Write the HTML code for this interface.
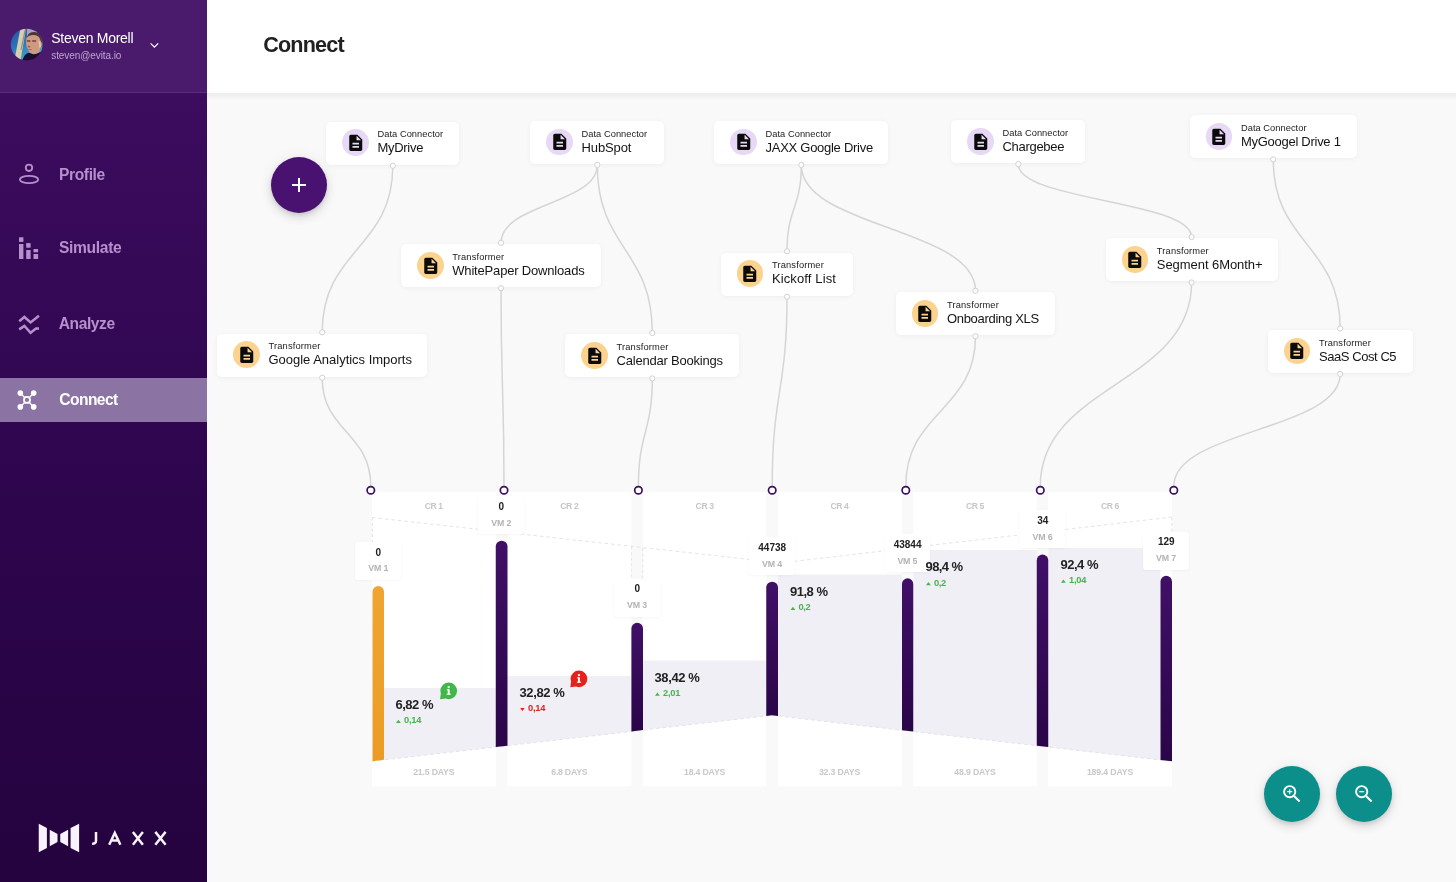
<!DOCTYPE html>
<html lang="en"><head><meta charset="utf-8"><title>Connect</title>
<style>
*{box-sizing:border-box}
html,body{margin:0;padding:0}
body{width:1456px;height:882px;overflow:hidden;background:#f9f9f9;font-family:"Liberation Sans", sans-serif;position:relative}
.t{position:absolute;white-space:pre;font-family:"Liberation Sans", sans-serif}
#side{position:absolute;left:0;top:0;width:207px;height:882px;background:linear-gradient(180deg,#3c0c5e 93px,#2d054d 500px,#24033e 882px)}
#sidehead{position:absolute;left:0;top:0;width:207px;height:93px;background:#4a1b6c;border-bottom:1px solid #5b2d7d}
#navact{position:absolute;left:0;top:378px;width:207px;height:44px;background:#8b73a3}
#top{position:absolute;left:207px;top:0;width:1249px;height:92.5px;background:#fff;}
#topsh{position:absolute;left:207px;top:92.5px;width:1249px;height:7px;background:linear-gradient(180deg,#eeeeee 0,#efefef 35%,#f6f6f6 70%,#f9f9f9 100%)}
.node{position:absolute;height:43px;background:#fff;border-radius:5px;box-shadow:0 1px 5px rgba(0,0,0,.05)}
.nic{position:absolute;left:16px;top:7.9px;width:26.8px;height:26.8px;border-radius:50%;display:flex;align-items:center;justify-content:center}
.tag{position:absolute;width:45.6px;height:38px;background:#fff;border-radius:3px;box-shadow:0 1px 3px rgba(0,0,0,.04)}
.fab{position:absolute;width:56px;height:56px;border-radius:50%}
#txt{position:absolute;left:0;top:0;width:1456px;height:882px;will-change:transform}
svg.ov{position:absolute;left:0;top:0;width:1456px;height:882px;overflow:visible}
</style></head>
<body>
<div id="top"></div><div id="topsh"></div>
<svg class="ov" viewBox="0 0 1456 882">
<defs>
<linearGradient id="gP" x1="0" y1="0" x2="0" y2="1"><stop offset="0" stop-color="#401067"/><stop offset="1" stop-color="#2a0548"/></linearGradient>
<linearGradient id="gO" x1="0" y1="0" x2="0" y2="1"><stop offset="0" stop-color="#f0a431"/><stop offset="1" stop-color="#ea9c25"/></linearGradient>
</defs>
<g fill="none" stroke="#d5d5d5" stroke-width="1.5">
<path d="M392.8,165.7 C392.8,249.0 322.2,249.0 322.2,332.3"/>
<path d="M597.3,164.9 C597.3,203.8 501.0,203.8 501.0,242.8"/>
<path d="M597.3,164.9 C597.3,248.9 652.3,248.9 652.3,333.0"/>
<path d="M801.3,164.9 C801.3,208.1 787.0,208.1 787.0,251.3"/>
<path d="M801.3,164.9 C801.3,227.8 975.5,227.8 975.5,290.8"/>
<path d="M1018.3,164.2 C1018.3,200.7 1191.6,200.7 1191.6,237.1"/>
<path d="M1273.2,159.4 C1273.2,243.9 1340.2,243.9 1340.2,328.5"/>
<path d="M322.2,377.7 C322.2,432.0 370.8,432.0 370.8,486.2"/>
<path d="M501.0,288.2 C501.0,387.2 504.0,387.2 504.0,486.2"/>
<path d="M652.3,378.4 C652.3,432.3 638.4,432.3 638.4,486.2"/>
<path d="M787.0,296.7 C787.0,391.5 772.2,391.5 772.2,486.2"/>
<path d="M975.5,336.2 C975.5,411.2 905.8,411.2 905.8,486.2"/>
<path d="M1191.6,282.5 C1191.6,384.4 1040.3,384.4 1040.3,486.2"/>
<path d="M1340.2,373.9 C1340.2,430.1 1173.8,430.1 1173.8,486.2"/>
</g>
<rect x="372" y="492" width="123.75" height="294.3" fill="#fff"/>
<rect x="507.5" y="492" width="123.90" height="294.3" fill="#fff"/>
<rect x="643" y="492" width="123.25" height="294.3" fill="#fff"/>
<rect x="778" y="492" width="124.00" height="294.3" fill="#fff"/>
<rect x="913.25" y="492" width="123.50" height="294.3" fill="#fff"/>
<rect x="1048.25" y="492" width="123.75" height="294.3" fill="#fff"/>
<polygon points="384,688 495.75,688 495.75,747.02 384,759.87" fill="#f1eff6"/>
<polygon points="507.5,676 631.4,676 631.4,731.42 507.5,745.67" fill="#f1eff6"/>
<polygon points="643,660.5 766.25,660.5 766.25,715.91 643,730.09" fill="#f1eff6"/>
<polygon points="778,574.5 902,574.5 902,730.20 778,715.94" fill="#f1eff6"/>
<polygon points="913.25,550 1036.75,550 1036.75,745.70 913.25,731.49" fill="#f1eff6"/>
<polygon points="1048.25,548 1160.5,548 1160.5,759.93 1048.25,747.02" fill="#f1eff6"/>
<polyline points="372,517.5 772,561.9" fill="none" stroke="#e4e4e4" stroke-width="1" stroke-dasharray="3.5 3"/>
<polyline points="1172,517 772,564" fill="none" stroke="#e4e4e4" stroke-width="1" stroke-dasharray="3.5 3"/>
<polyline points="372,761.25 772,715.25 1172,761.25" fill="none" stroke="#e4e4e4" stroke-width="1" stroke-dasharray="3.5 3"/>
<line x1="372.3" y1="517.5" x2="372.3" y2="542" stroke="#e4e4e4" stroke-dasharray="3 2.5"/>
<line x1="1171.8" y1="517.5" x2="1171.8" y2="532" stroke="#e4e4e4" stroke-dasharray="3 2.5"/>
<line x1="631.6" y1="546.7" x2="631.6" y2="580" stroke="#e4e4e4" stroke-dasharray="3 2.5"/>
<line x1="642.8" y1="548.0" x2="642.8" y2="580" stroke="#e4e4e4" stroke-dasharray="3 2.5"/>
<path d="M372.5,761.19 L372.5,591.85 A5.75,5.75 0 0 1 384,591.85 L384,759.87 Z" fill="url(#gO)"/>
<path d="M495.75,747.02 L495.75,546.33 A5.88,5.88 0 0 1 507.5,546.33 L507.5,745.67 Z" fill="url(#gP)"/>
<path d="M631.4,731.42 L631.4,628.60 A5.80,5.80 0 0 1 643,628.60 L643,730.09 Z" fill="url(#gP)"/>
<path d="M766.25,715.91 L766.25,587.33 A5.88,5.88 0 0 1 778,587.33 L778,715.94 L772,715.25 Z" fill="url(#gP)"/>
<path d="M902,730.20 L902,583.93 A5.62,5.62 0 0 1 913.25,583.93 L913.25,731.49 Z" fill="url(#gP)"/>
<path d="M1036.75,745.70 L1036.75,560.20 A5.75,5.75 0 0 1 1048.25,560.20 L1048.25,747.02 Z" fill="url(#gP)"/>
<path d="M1160.5,759.93 L1160.5,581.55 A5.75,5.75 0 0 1 1172,581.55 L1172,761.25 Z" fill="url(#gP)"/>
</svg>
<div class="node" style="left:326.25px;top:121.5px;width:133px"><div class="nic" style="background:#e7d8f6"><svg viewBox="0 0 24 24" width="19.5" height="19.5"><path d="M14 2H6c-1.1 0-1.99.9-1.99 2L4 20c0 1.1.89 2 1.99 2H18c1.1 0 2-.9 2-2V8l-6-6zm2 16H8v-2h8v2zm0-4H8v-2h8v2zm-3-5V3.5L18.5 9H13z" fill="#0b0b0b"/></svg></div></div><div class="node" style="left:530.3px;top:120.7px;width:134px"><div class="nic" style="background:#e7d8f6"><svg viewBox="0 0 24 24" width="19.5" height="19.5"><path d="M14 2H6c-1.1 0-1.99.9-1.99 2L4 20c0 1.1.89 2 1.99 2H18c1.1 0 2-.9 2-2V8l-6-6zm2 16H8v-2h8v2zm0-4H8v-2h8v2zm-3-5V3.5L18.5 9H13z" fill="#0b0b0b"/></svg></div></div><div class="node" style="left:714.3px;top:120.7px;width:174px"><div class="nic" style="background:#e7d8f6"><svg viewBox="0 0 24 24" width="19.5" height="19.5"><path d="M14 2H6c-1.1 0-1.99.9-1.99 2L4 20c0 1.1.89 2 1.99 2H18c1.1 0 2-.9 2-2V8l-6-6zm2 16H8v-2h8v2zm0-4H8v-2h8v2zm-3-5V3.5L18.5 9H13z" fill="#0b0b0b"/></svg></div></div><div class="node" style="left:951.3px;top:120px;width:134px"><div class="nic" style="background:#e7d8f6"><svg viewBox="0 0 24 24" width="19.5" height="19.5"><path d="M14 2H6c-1.1 0-1.99.9-1.99 2L4 20c0 1.1.89 2 1.99 2H18c1.1 0 2-.9 2-2V8l-6-6zm2 16H8v-2h8v2zm0-4H8v-2h8v2zm-3-5V3.5L18.5 9H13z" fill="#0b0b0b"/></svg></div></div><div class="node" style="left:1189.7px;top:115.2px;width:167px"><div class="nic" style="background:#e7d8f6"><svg viewBox="0 0 24 24" width="19.5" height="19.5"><path d="M14 2H6c-1.1 0-1.99.9-1.99 2L4 20c0 1.1.89 2 1.99 2H18c1.1 0 2-.9 2-2V8l-6-6zm2 16H8v-2h8v2zm0-4H8v-2h8v2zm-3-5V3.5L18.5 9H13z" fill="#0b0b0b"/></svg></div></div><div class="node" style="left:401px;top:244px;width:200px"><div class="nic" style="background:#fbd38f"><svg viewBox="0 0 24 24" width="19.5" height="19.5"><path d="M14 2H6c-1.1 0-1.99.9-1.99 2L4 20c0 1.1.89 2 1.99 2H18c1.1 0 2-.9 2-2V8l-6-6zm2 16H8v-2h8v2zm0-4H8v-2h8v2zm-3-5V3.5L18.5 9H13z" fill="#0b0b0b"/></svg></div></div><div class="node" style="left:217.25px;top:333.5px;width:210px"><div class="nic" style="background:#fbd38f"><svg viewBox="0 0 24 24" width="19.5" height="19.5"><path d="M14 2H6c-1.1 0-1.99.9-1.99 2L4 20c0 1.1.89 2 1.99 2H18c1.1 0 2-.9 2-2V8l-6-6zm2 16H8v-2h8v2zm0-4H8v-2h8v2zm-3-5V3.5L18.5 9H13z" fill="#0b0b0b"/></svg></div></div><div class="node" style="left:565.3px;top:334.2px;width:174px"><div class="nic" style="background:#fbd38f"><svg viewBox="0 0 24 24" width="19.5" height="19.5"><path d="M14 2H6c-1.1 0-1.99.9-1.99 2L4 20c0 1.1.89 2 1.99 2H18c1.1 0 2-.9 2-2V8l-6-6zm2 16H8v-2h8v2zm0-4H8v-2h8v2zm-3-5V3.5L18.5 9H13z" fill="#0b0b0b"/></svg></div></div><div class="node" style="left:720.7px;top:252.5px;width:132.5px"><div class="nic" style="background:#fbd38f"><svg viewBox="0 0 24 24" width="19.5" height="19.5"><path d="M14 2H6c-1.1 0-1.99.9-1.99 2L4 20c0 1.1.89 2 1.99 2H18c1.1 0 2-.9 2-2V8l-6-6zm2 16H8v-2h8v2zm0-4H8v-2h8v2zm-3-5V3.5L18.5 9H13z" fill="#0b0b0b"/></svg></div></div><div class="node" style="left:895.7px;top:292px;width:159.5px"><div class="nic" style="background:#fbd38f"><svg viewBox="0 0 24 24" width="19.5" height="19.5"><path d="M14 2H6c-1.1 0-1.99.9-1.99 2L4 20c0 1.1.89 2 1.99 2H18c1.1 0 2-.9 2-2V8l-6-6zm2 16H8v-2h8v2zm0-4H8v-2h8v2zm-3-5V3.5L18.5 9H13z" fill="#0b0b0b"/></svg></div></div><div class="node" style="left:1105.6px;top:238.3px;width:172px"><div class="nic" style="background:#fbd38f"><svg viewBox="0 0 24 24" width="19.5" height="19.5"><path d="M14 2H6c-1.1 0-1.99.9-1.99 2L4 20c0 1.1.89 2 1.99 2H18c1.1 0 2-.9 2-2V8l-6-6zm2 16H8v-2h8v2zm0-4H8v-2h8v2zm-3-5V3.5L18.5 9H13z" fill="#0b0b0b"/></svg></div></div><div class="node" style="left:1267.7px;top:329.7px;width:145px"><div class="nic" style="background:#fbd38f"><svg viewBox="0 0 24 24" width="19.5" height="19.5"><path d="M14 2H6c-1.1 0-1.99.9-1.99 2L4 20c0 1.1.89 2 1.99 2H18c1.1 0 2-.9 2-2V8l-6-6zm2 16H8v-2h8v2zm0-4H8v-2h8v2zm-3-5V3.5L18.5 9H13z" fill="#0b0b0b"/></svg></div></div>
<div class="tag" style="left:355.3px;top:541.9px"></div><div class="tag" style="left:478.3px;top:496.2px"></div><div class="tag" style="left:614.1px;top:578.6px"></div><div class="tag" style="left:749.1px;top:537.2px"></div><div class="tag" style="left:884.5px;top:534.1px"></div><div class="tag" style="left:1019.7px;top:510.2px"></div><div class="tag" style="left:1143.2px;top:531.6px"></div>
<svg class="ov" viewBox="0 0 1456 882">
<circle cx="392.8" cy="165.7" r="2.6" fill="#fff" stroke="#d2d2d2" stroke-width="1"/><circle cx="597.3" cy="164.9" r="2.6" fill="#fff" stroke="#d2d2d2" stroke-width="1"/><circle cx="801.3" cy="164.9" r="2.6" fill="#fff" stroke="#d2d2d2" stroke-width="1"/><circle cx="1018.3" cy="164.2" r="2.6" fill="#fff" stroke="#d2d2d2" stroke-width="1"/><circle cx="1273.2" cy="159.4" r="2.6" fill="#fff" stroke="#d2d2d2" stroke-width="1"/><circle cx="501.0" cy="242.8" r="2.6" fill="#fff" stroke="#d2d2d2" stroke-width="1"/><circle cx="501.0" cy="288.2" r="2.6" fill="#fff" stroke="#d2d2d2" stroke-width="1"/><circle cx="322.2" cy="332.3" r="2.6" fill="#fff" stroke="#d2d2d2" stroke-width="1"/><circle cx="322.2" cy="377.7" r="2.6" fill="#fff" stroke="#d2d2d2" stroke-width="1"/><circle cx="652.3" cy="333.0" r="2.6" fill="#fff" stroke="#d2d2d2" stroke-width="1"/><circle cx="652.3" cy="378.4" r="2.6" fill="#fff" stroke="#d2d2d2" stroke-width="1"/><circle cx="787.0" cy="251.3" r="2.6" fill="#fff" stroke="#d2d2d2" stroke-width="1"/><circle cx="787.0" cy="296.7" r="2.6" fill="#fff" stroke="#d2d2d2" stroke-width="1"/><circle cx="975.5" cy="290.8" r="2.6" fill="#fff" stroke="#d2d2d2" stroke-width="1"/><circle cx="975.5" cy="336.2" r="2.6" fill="#fff" stroke="#d2d2d2" stroke-width="1"/><circle cx="1191.6" cy="237.1" r="2.6" fill="#fff" stroke="#d2d2d2" stroke-width="1"/><circle cx="1191.6" cy="282.5" r="2.6" fill="#fff" stroke="#d2d2d2" stroke-width="1"/><circle cx="1340.2" cy="328.5" r="2.6" fill="#fff" stroke="#d2d2d2" stroke-width="1"/><circle cx="1340.2" cy="373.9" r="2.6" fill="#fff" stroke="#d2d2d2" stroke-width="1"/>
<circle cx="370.8" cy="490.25" r="3.7" fill="#fff" stroke="#3b0f60" stroke-width="1.7"/><circle cx="504" cy="490.25" r="3.7" fill="#fff" stroke="#3b0f60" stroke-width="1.7"/><circle cx="638.4" cy="490.25" r="3.7" fill="#fff" stroke="#3b0f60" stroke-width="1.7"/><circle cx="772.2" cy="490.25" r="3.7" fill="#fff" stroke="#3b0f60" stroke-width="1.7"/><circle cx="905.8" cy="490.25" r="3.7" fill="#fff" stroke="#3b0f60" stroke-width="1.7"/><circle cx="1040.3" cy="490.25" r="3.7" fill="#fff" stroke="#3b0f60" stroke-width="1.7"/><circle cx="1173.8" cy="490.25" r="3.7" fill="#fff" stroke="#3b0f60" stroke-width="1.7"/>
<polygon points="396.0,722.95 400.8,722.95 398.4,719.85" fill="#43b649"/>
<polygon points="520.1,707.95 524.7,707.95 522.4,710.95" fill="#e3221c"/>
<polygon points="655.0,695.7 659.8,695.7 657.4,692.6" fill="#43b649"/>
<polygon points="790.5,609.95 795.3,609.95 792.9,606.85" fill="#43b649"/>
<polygon points="926.0,585.2 930.8,585.2 928.4,582.1" fill="#43b649"/>
<polygon points="1061.0,582.7 1065.8,582.7 1063.4,579.6" fill="#43b649"/>
<!-- info bubbles -->
<g><circle cx="448.7" cy="690.8" r="8.35" fill="#43b649"/><path d="M440.80,693.40 L440.10,699.20 L445.70,698.50z" fill="#43b649"/><rect x="447.75" y="689.30" width="1.9" height="5.2" fill="#fff"/><rect x="446.80" y="689.30" width="2.2" height="1" fill="#fff"/><rect x="446.60" y="693.70" width="4.2" height="1" fill="#fff"/><circle cx="448.7" cy="687.10" r="1.2" fill="#fff"/></g>
<g><circle cx="578.95" cy="678.8" r="8.35" fill="#e3221c"/><path d="M571.05,681.40 L570.35,687.20 L575.95,686.50z" fill="#e3221c"/><rect x="578.00" y="677.30" width="1.9" height="5.2" fill="#fff"/><rect x="577.05" y="677.30" width="2.2" height="1" fill="#fff"/><rect x="576.85" y="681.70" width="4.2" height="1" fill="#fff"/><circle cx="578.95" cy="675.10" r="1.2" fill="#fff"/></g>
</svg>

<!-- FABs -->
<div class="fab" style="left:271px;top:157px;background:#491170;box-shadow:0 2px 5px -1px rgba(0,0,0,.14),0 5px 10px rgba(0,0,0,.09),0 1px 16px rgba(0,0,0,.07)">
<svg viewBox="0 0 56 56" width="56" height="56"><path d="M28 21v14M21 28h14" stroke="#fff" stroke-width="2" fill="none"/></svg></div>
<div class="fab" style="left:1264px;top:766px;width:56px;height:56px;background:#0c8f8b;box-shadow:0 2px 5px -1px rgba(0,0,0,.14),0 5px 10px rgba(0,0,0,.09),0 1px 16px rgba(0,0,0,.07)">
<svg viewBox="0 0 56 56" width="56" height="56"><circle cx="25.7" cy="25.7" r="5.6" stroke="#fff" stroke-width="1.9" fill="none"/><path d="M30 30l5.6 5.6" stroke="#fff" stroke-width="2.1" fill="none"/><path d="M25.7 23.2v5M23.2 25.7h5" stroke="#fff" stroke-width="1.2"/></svg></div>
<div class="fab" style="left:1336px;top:766px;width:56px;height:56px;background:#0c8f8b;box-shadow:0 2px 5px -1px rgba(0,0,0,.14),0 5px 10px rgba(0,0,0,.09),0 1px 16px rgba(0,0,0,.07)">
<svg viewBox="0 0 56 56" width="56" height="56"><circle cx="25.7" cy="25.7" r="5.6" stroke="#fff" stroke-width="1.9" fill="none"/><path d="M30 30l5.6 5.6" stroke="#fff" stroke-width="2.1" fill="none"/><path d="M23.2 25.7h5" stroke="#fff" stroke-width="1.2"/></svg></div>

<!-- sidebar -->
<div id="side"></div><div id="sidehead"></div><div id="navact"></div>
<svg class="ov" viewBox="0 0 1456 882">
<!-- avatar -->
<defs><clipPath id="av"><circle cx="26.7" cy="44.6" r="15.9"/></clipPath><linearGradient id="sky" x1="0" y1="0" x2="0.5" y2="1"><stop offset="0" stop-color="#25499a"/><stop offset="0.55" stop-color="#2f78bd"/><stop offset="1" stop-color="#45b3cf"/></linearGradient><filter id="avb" x="-10%" y="-10%" width="120%" height="120%"><feGaussianBlur stdDeviation="0.7"/></filter></defs>
<g clip-path="url(#av)"><g filter="url(#avb)">
<rect x="9" y="27" width="36" height="36" fill="url(#sky)"/>
<polygon points="20.6,27 26.4,27 20.2,62 14.2,62" fill="#d6cfac"/>
<polygon points="25.2,27 26.6,27 21.5,50 20.4,50" fill="#4a5a70" opacity=".55"/>
<rect x="27" y="27" width="17" height="12" fill="#a7a2bd"/>
<path d="M26.5,40 Q27,31.5 34.5,32 Q41.5,32.5 42,42 L42,47 L26.5,44z" fill="#4b3634"/>
<path d="M26.3,38.5 Q28,34.8 34,35 Q39.5,35.4 40.3,40 L41.8,43 Q42.6,46 40.6,47.4 L39,53 Q34,55.5 29.5,52.5 L26.6,47 Q25.6,43 26.3,38.5z" fill="#cf9a82"/>
<path d="M27,40.3 h3.4 v1.4 h-3.4z M32.2,40.3 h3.8 v1.5 h-3.8z" fill="#5a2f2c" opacity=".8"/>
<path d="M27.8,45.6 l2.6,0.6 l-0.4,1.4 l-2.4,-0.3z" fill="#8a4a3c" opacity=".7"/>
<path d="M28.2,49 h3.6 v0.9 h-3.6z" fill="#9a5348" opacity=".7"/>
<path d="M38.5,40 q3,2 2.4,7 l-1.6,1z" fill="#e9c3ad"/>
<path d="M21,63 L24.5,55.5 Q27.5,51.8 30.5,53.2 Q34.5,55.4 39.4,52.4 L41.5,51.5 L44,63z" fill="#1a1030"/>
</g></g>
<path d="M150.6,43.3 l3.8,3.8 l3.8,-3.8" fill="none" stroke="#fff" stroke-width="1.2"/>
<!-- profile -->
<g fill="none" stroke="#b690cc" stroke-width="1.8"><circle cx="29" cy="167.8" r="3.2"/><ellipse cx="29.05" cy="179.5" rx="9.2" ry="3.7"/></g>
<!-- simulate -->
<g fill="#b690cc"><rect x="19" y="237.3" width="4.4" height="4.6"/><rect x="19" y="244" width="4.4" height="15"/>
<rect x="26.2" y="243.1" width="4.4" height="4.6"/><rect x="26.2" y="250" width="4.4" height="9"/>
<rect x="33.5" y="249" width="4.6" height="3.3"/><rect x="33.5" y="254" width="4.6" height="5"/></g>
<!-- analyze -->
<g fill="none" stroke="#b690cc" stroke-width="2.5" stroke-linejoin="miter"><path d="M19.2,321.3 l5.2,-4.3 l6.2,5.4 l8.4,-6.6"/><path d="M19.2,329.4 l5.2,-3.4 l6.2,6.8 l5.4,-4.2 h3"/></g>
<!-- connect -->
<g stroke="#fff" fill="#fff"><path d="M20.3,393.1 L33.7,406.9 M33.7,393.1 L20.3,406.9" stroke-width="1.4"/><circle cx="20.3" cy="393.1" r="2.8" stroke="none"/><circle cx="33.7" cy="393.1" r="2.8" stroke="none"/><circle cx="20.3" cy="406.9" r="2.8" stroke="none"/><circle cx="33.7" cy="406.9" r="2.8" stroke="none"/><circle cx="27" cy="399.9" r="3" fill="#8b73a3" stroke-width="1.8"/></g>
<!-- logo -->
<g fill="#f8f2fc"><polygon points="38.75,823.75 46.9,828.1 46.9,847.9 38.75,852.25"/><polygon points="49.75,829.75 57.5,834 57.5,842.1 49.75,846.25"/><polygon points="60.25,834 68.1,829.75 68.1,846.25 60.25,842.1"/><polygon points="70.6,828.1 79.1,823.75 79.1,852.25 70.6,847.9"/></g>
<g fill="none" stroke="#f8f2fc" stroke-width="2.5"><path d="M96,831.9 v8.9 q0,3.1 -3.9,2.9"/><path d="M109.2,844.75 L114.8,833 L120.4,844.75 M111.2,840.4 h7.2"/><path d="M132.9,831.9 L142.9,844.75 M142.9,831.9 L132.9,844.75"/><path d="M155.3,831.9 L165.6,844.75 M165.6,831.9 L155.3,844.75"/></g>
</svg>
<div id="txt">
<span class="t " style="left:375.62px;top:546.53px;font-size:10px;line-height:12.0px;font-weight:700;color:#222;">0</span>
<span class="t " style="left:368.20px;top:563.47px;font-size:8.8px;line-height:10.56px;font-weight:700;color:#b3b3b3;letter-spacing:-0.137px;">VM 1</span>
<span class="t " style="left:498.62px;top:500.89px;font-size:10px;line-height:12.0px;font-weight:700;color:#222;">0</span>
<span class="t " style="left:491.20px;top:517.82px;font-size:8.8px;line-height:10.56px;font-weight:700;color:#b3b3b3;letter-spacing:-0.137px;">VM 2</span>
<span class="t " style="left:634.42px;top:583.24px;font-size:10px;line-height:12.0px;font-weight:700;color:#222;">0</span>
<span class="t " style="left:627.00px;top:600.17px;font-size:8.8px;line-height:10.56px;font-weight:700;color:#b3b3b3;letter-spacing:-0.137px;">VM 3</span>
<span class="t " style="left:758.29px;top:541.88px;font-size:10px;line-height:12.0px;font-weight:700;color:#222;">44738</span>
<span class="t " style="left:762.00px;top:558.82px;font-size:8.8px;line-height:10.56px;font-weight:700;color:#b3b3b3;letter-spacing:-0.137px;">VM 4</span>
<span class="t " style="left:893.69px;top:538.74px;font-size:10px;line-height:12.0px;font-weight:700;color:#222;">43844</span>
<span class="t " style="left:897.40px;top:555.67px;font-size:8.8px;line-height:10.56px;font-weight:700;color:#b3b3b3;letter-spacing:-0.137px;">VM 5</span>
<span class="t " style="left:1037.24px;top:514.88px;font-size:10px;line-height:12.0px;font-weight:700;color:#222;">34</span>
<span class="t " style="left:1032.60px;top:531.82px;font-size:8.8px;line-height:10.56px;font-weight:700;color:#b3b3b3;letter-spacing:-0.137px;">VM 6</span>
<span class="t " style="left:1157.96px;top:536.24px;font-size:10px;line-height:12.0px;font-weight:700;color:#222;">129</span>
<span class="t " style="left:1156.10px;top:553.17px;font-size:8.8px;line-height:10.56px;font-weight:700;color:#b3b3b3;letter-spacing:-0.137px;">VM 7</span>
<span class="t " style="left:424.75px;top:500.66px;font-size:8.6px;line-height:10.32px;font-weight:700;color:#c6c6c6;letter-spacing:-0.398px;">CR 1</span>
<span class="t " style="left:413.15px;top:766.87px;font-size:8.7px;line-height:10.44px;font-weight:700;color:#c8c8c8;letter-spacing:-0.164px;">21.5 DAYS</span>
<span class="t " style="left:560.30px;top:500.66px;font-size:8.6px;line-height:10.32px;font-weight:700;color:#c6c6c6;letter-spacing:-0.398px;">CR 2</span>
<span class="t " style="left:551.35px;top:766.87px;font-size:8.7px;line-height:10.44px;font-weight:700;color:#c8c8c8;letter-spacing:-0.243px;">6.8 DAYS</span>
<span class="t " style="left:695.60px;top:500.66px;font-size:8.6px;line-height:10.32px;font-weight:700;color:#c6c6c6;letter-spacing:-0.398px;">CR 3</span>
<span class="t " style="left:684.00px;top:766.87px;font-size:8.7px;line-height:10.44px;font-weight:700;color:#c8c8c8;letter-spacing:-0.164px;">18.4 DAYS</span>
<span class="t " style="left:830.50px;top:500.66px;font-size:8.6px;line-height:10.32px;font-weight:700;color:#c6c6c6;letter-spacing:-0.398px;">CR 4</span>
<span class="t " style="left:818.90px;top:766.87px;font-size:8.7px;line-height:10.44px;font-weight:700;color:#c8c8c8;letter-spacing:-0.164px;">32.3 DAYS</span>
<span class="t " style="left:966.00px;top:500.66px;font-size:8.6px;line-height:10.32px;font-weight:700;color:#c6c6c6;letter-spacing:-0.398px;">CR 5</span>
<span class="t " style="left:954.30px;top:766.87px;font-size:8.7px;line-height:10.44px;font-weight:700;color:#c8c8c8;letter-spacing:-0.141px;">48.9 DAYS</span>
<span class="t " style="left:1101.00px;top:500.66px;font-size:8.6px;line-height:10.32px;font-weight:700;color:#c6c6c6;letter-spacing:-0.398px;">CR 6</span>
<span class="t " style="left:1086.90px;top:766.87px;font-size:8.7px;line-height:10.44px;font-weight:700;color:#c8c8c8;letter-spacing:-0.130px;">189.4 DAYS</span>
<span class="t " style="left:395.50px;top:696.95px;font-size:13px;line-height:15.6px;font-weight:700;color:#222;letter-spacing:-0.497px;">6,82 %</span>
<span class="t " style="left:403.90px;top:715.45px;font-size:9.3px;line-height:11.16px;font-weight:700;color:#43b649;letter-spacing:-0.177px;">0,14</span>
<span class="t " style="left:519.50px;top:684.95px;font-size:13px;line-height:15.6px;font-weight:700;color:#222;letter-spacing:-0.386px;">32,82 %</span>
<span class="t " style="left:527.90px;top:703.45px;font-size:9.3px;line-height:11.16px;font-weight:700;color:#e3221c;letter-spacing:-0.177px;">0,14</span>
<span class="t " style="left:654.50px;top:669.70px;font-size:13px;line-height:15.6px;font-weight:700;color:#222;letter-spacing:-0.386px;">38,42 %</span>
<span class="t " style="left:662.90px;top:688.20px;font-size:9.3px;line-height:11.16px;font-weight:700;color:#43b649;letter-spacing:-0.177px;">2,01</span>
<span class="t " style="left:790.00px;top:583.95px;font-size:13px;line-height:15.6px;font-weight:700;color:#222;letter-spacing:-0.497px;">91,8 %</span>
<span class="t " style="left:798.40px;top:602.45px;font-size:9.3px;line-height:11.16px;font-weight:700;color:#43b649;letter-spacing:-0.379px;">0,2</span>
<span class="t " style="left:925.50px;top:559.20px;font-size:13px;line-height:15.6px;font-weight:700;color:#222;letter-spacing:-0.581px;">98,4 %</span>
<span class="t " style="left:933.90px;top:577.70px;font-size:9.3px;line-height:11.16px;font-weight:700;color:#43b649;letter-spacing:-0.379px;">0,2</span>
<span class="t " style="left:1060.50px;top:556.70px;font-size:13px;line-height:15.6px;font-weight:700;color:#222;letter-spacing:-0.497px;">92,4 %</span>
<span class="t " style="left:1068.90px;top:575.20px;font-size:9.3px;line-height:11.16px;font-weight:700;color:#43b649;letter-spacing:-0.177px;">1,04</span>
<span class="t " style="left:377.50px;top:129.30px;font-size:9.3px;line-height:11.16px;font-weight:400;color:#1a1a1a;letter-spacing:0.034px;">Data Connector</span>
<span class="t nm" style="left:377.50px;top:140.40px;font-size:13px;line-height:15.6px;font-weight:400;color:#141414;letter-spacing:-0.296px;">MyDrive</span>
<span class="t " style="left:581.55px;top:128.50px;font-size:9.3px;line-height:11.16px;font-weight:400;color:#1a1a1a;letter-spacing:0.034px;">Data Connector</span>
<span class="t nm" style="left:581.55px;top:139.60px;font-size:13px;line-height:15.6px;font-weight:400;color:#141414;letter-spacing:-0.113px;">HubSpot</span>
<span class="t " style="left:765.55px;top:128.50px;font-size:9.3px;line-height:11.16px;font-weight:400;color:#1a1a1a;letter-spacing:0.034px;">Data Connector</span>
<span class="t nm" style="left:765.55px;top:139.60px;font-size:13px;line-height:15.6px;font-weight:400;color:#141414;letter-spacing:-0.276px;">JAXX Google Drive</span>
<span class="t " style="left:1002.55px;top:127.80px;font-size:9.3px;line-height:11.16px;font-weight:400;color:#1a1a1a;letter-spacing:0.034px;">Data Connector</span>
<span class="t nm" style="left:1002.55px;top:138.90px;font-size:13px;line-height:15.6px;font-weight:400;color:#141414;letter-spacing:-0.314px;">Chargebee</span>
<span class="t " style="left:1240.95px;top:123.00px;font-size:9.3px;line-height:11.16px;font-weight:400;color:#1a1a1a;letter-spacing:0.034px;">Data Connector</span>
<span class="t nm" style="left:1240.95px;top:134.10px;font-size:13px;line-height:15.6px;font-weight:400;color:#141414;letter-spacing:-0.272px;">MyGoogel Drive 1</span>
<span class="t " style="left:452.25px;top:251.80px;font-size:9.3px;line-height:11.16px;font-weight:400;color:#1a1a1a;letter-spacing:0.156px;">Transformer</span>
<span class="t nm" style="left:452.25px;top:262.90px;font-size:13px;line-height:15.6px;font-weight:400;color:#141414;letter-spacing:-0.178px;">WhitePaper Downloads</span>
<span class="t " style="left:268.50px;top:341.30px;font-size:9.3px;line-height:11.16px;font-weight:400;color:#1a1a1a;letter-spacing:0.156px;">Transformer</span>
<span class="t nm" style="left:268.50px;top:352.40px;font-size:13px;line-height:15.6px;font-weight:400;color:#141414;letter-spacing:-0.017px;">Google Analytics Imports</span>
<span class="t " style="left:616.55px;top:342.00px;font-size:9.3px;line-height:11.16px;font-weight:400;color:#1a1a1a;letter-spacing:0.156px;">Transformer</span>
<span class="t nm" style="left:616.55px;top:353.10px;font-size:13px;line-height:15.6px;font-weight:400;color:#141414;letter-spacing:-0.215px;">Calendar Bookings</span>
<span class="t " style="left:771.95px;top:260.30px;font-size:9.3px;line-height:11.16px;font-weight:400;color:#1a1a1a;letter-spacing:0.156px;">Transformer</span>
<span class="t nm" style="left:771.95px;top:271.40px;font-size:13px;line-height:15.6px;font-weight:400;color:#141414;letter-spacing:0.123px;">Kickoff List</span>
<span class="t " style="left:946.95px;top:299.80px;font-size:9.3px;line-height:11.16px;font-weight:400;color:#1a1a1a;letter-spacing:0.156px;">Transformer</span>
<span class="t nm" style="left:946.95px;top:310.90px;font-size:13px;line-height:15.6px;font-weight:400;color:#141414;letter-spacing:-0.302px;">Onboarding XLS</span>
<span class="t " style="left:1156.85px;top:246.10px;font-size:9.3px;line-height:11.16px;font-weight:400;color:#1a1a1a;letter-spacing:0.156px;">Transformer</span>
<span class="t nm" style="left:1156.85px;top:257.20px;font-size:13px;line-height:15.6px;font-weight:400;color:#141414;letter-spacing:-0.061px;">Segment 6Month+</span>
<span class="t " style="left:1318.95px;top:337.50px;font-size:9.3px;line-height:11.16px;font-weight:400;color:#1a1a1a;letter-spacing:0.156px;">Transformer</span>
<span class="t nm" style="left:1318.95px;top:348.60px;font-size:13px;line-height:15.6px;font-weight:400;color:#141414;letter-spacing:-0.431px;">SaaS Cost C5</span>
<span class="t " style="left:51.25px;top:29.85px;font-size:14px;line-height:16.8px;font-weight:400;color:#fff;letter-spacing:-0.276px;">Steven Morell</span>
<span class="t " style="left:51.25px;top:49.94px;font-size:10px;line-height:12.0px;font-weight:400;color:#bfa6d0;letter-spacing:-0.087px;">steven@evita.io</span>
<span class="t " style="left:58.90px;top:165.73px;font-size:15.6px;line-height:18.72px;font-weight:700;color:#b690cc;letter-spacing:-0.362px;">Profile</span>
<span class="t " style="left:58.90px;top:238.83px;font-size:15.6px;line-height:18.72px;font-weight:700;color:#b690cc;letter-spacing:-0.312px;">Simulate</span>
<span class="t " style="left:58.70px;top:315.33px;font-size:15.6px;line-height:18.72px;font-weight:700;color:#b690cc;letter-spacing:-0.420px;">Analyze</span>
<span class="t " style="left:59.30px;top:390.73px;font-size:15.6px;line-height:18.72px;font-weight:700;color:#fff;letter-spacing:-0.568px;">Connect</span>
<span class="t " style="left:263.20px;top:31.96px;font-size:21.6px;line-height:25.92px;font-weight:700;color:#212121;letter-spacing:-0.825px;">Connect</span>
</div>
</body></html>
